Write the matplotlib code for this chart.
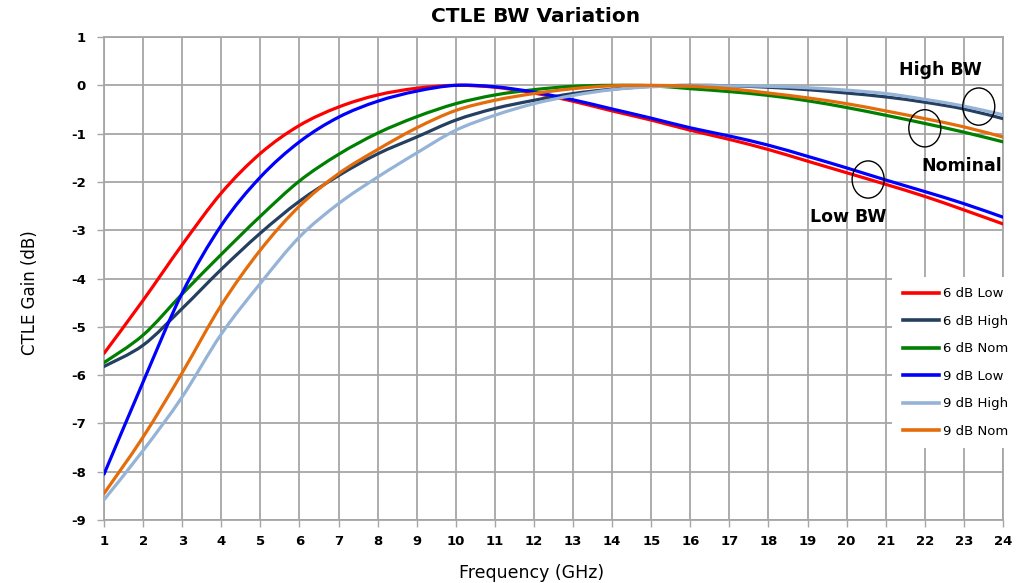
import matplotlib
matplotlib.use("Agg")
import matplotlib.pyplot as plt
import numpy as np
from matplotlib.path import Path
from matplotlib.patches import PathPatch, Ellipse
from matplotlib.lines import Line2D

plt.rcParams['axes.unicode_minus'] = False

freq = np.arange(1, 25)

low_6db = [-5.55, -4.45, -3.30, -2.23, -1.41, -0.83, -0.45, -0.20, -0.06, 0.00, -0.04, -0.16,
           -0.33, -0.53, -0.72, -0.93, -1.12, -1.33, -1.57, -1.81, -2.05, -2.30, -2.58, -2.87]
high_6db = [-5.82, -5.38, -4.62, -3.81, -3.06, -2.40, -1.87, -1.42, -1.07, -0.72, -0.48, -0.31,
            -0.17, -0.08, -0.02, 0.00, -0.01, -0.04, -0.09, -0.16, -0.24, -0.35, -0.49, -0.69]
nom_6db = [-5.74, -5.17, -4.32, -3.50, -2.71, -1.98, -1.43, -0.99, -0.65, -0.38, -0.20, -0.09,
           -0.02, 0.00, -0.01, -0.07, -0.13, -0.21, -0.32, -0.46, -0.62, -0.79, -0.97, -1.17]
low_9db = [-8.05, -6.14, -4.30, -2.90, -1.90, -1.17, -0.66, -0.33, -0.12, 0.00, -0.03, -0.14,
           -0.30, -0.49, -0.68, -0.88, -1.05, -1.24, -1.47, -1.71, -1.96, -2.20, -2.45, -2.73]
high_9db = [-8.58, -7.56, -6.45, -5.15, -4.10, -3.14, -2.45, -1.90, -1.40, -0.93, -0.62, -0.38,
            -0.21, -0.09, -0.03, -0.01, -0.01, -0.02, -0.05, -0.10, -0.17, -0.29, -0.43, -0.61]
nom_9db = [-8.45, -7.28, -5.95, -4.55, -3.41, -2.50, -1.83, -1.33, -0.88, -0.52, -0.31, -0.17,
           -0.07, -0.01, 0.00, -0.02, -0.07, -0.16, -0.26, -0.38, -0.53, -0.69, -0.86, -1.07]

labels = ["6 dB Low", "6 dB High", "6 dB Nom", "9 dB Low", "9 dB High", "9 dB Nom"]
series = [low_6db, high_6db, nom_6db, low_9db, high_9db, nom_9db]
colors = ["#ff0000", "#243f60", "#008000", "#0000ff", "#95b3d7", "#e46c0a"]


def smooth_path(x, y):
    # excel style smoothed line: catmull-rom segments as cubic beziers
    pts = np.column_stack([x, y]).astype(float)
    n = len(pts)
    verts = [pts[0]]
    codes = [Path.MOVETO]
    for i in range(n - 1):
        p0 = pts[i - 1] if i > 0 else pts[i]
        p1 = pts[i]
        p2 = pts[i + 1]
        p3 = pts[i + 2] if i + 2 < n else pts[i + 1]
        c1 = p1 + (p2 - p0) / 6.0
        c2 = p2 - (p3 - p1) / 6.0
        verts += [c1, c2, p2]
        codes += [Path.CURVE4] * 3
    return Path(verts, codes)


fig = plt.figure(figsize=(10.22, 5.83), dpi=100)
ax = fig.add_axes([0.1018, 0.108, 0.8796, 0.8285])

grid_col = "#a6a6a6"
for y, c in zip(series, colors):
    patch = PathPatch(smooth_path(freq, y), facecolor="none", edgecolor=c, lw=2.3,
                      capstyle="round", zorder=3)
    ax.add_patch(patch)

ax.set_xlim(1, 24)
ax.set_ylim(-9, 1)
ax.set_xticks(freq)
ax.set_yticks(np.arange(-9, 2, 1))
ax.grid(True, color=grid_col, lw=1.3)
ax.set_axisbelow(True)
for s in ax.spines.values():
    s.set_color(grid_col)
    s.set_linewidth(1.3)
ax.tick_params(axis="both", colors=grid_col, length=5, width=1.0, labelcolor="black")
for lab in ax.get_xticklabels() + ax.get_yticklabels():
    lab.set_fontweight("bold")
    lab.set_fontsize(9.5)
ax.tick_params(axis="x", pad=6)
ax.tick_params(axis="y", pad=8)

# circles and notes
for cx, cy in [(23.38, -0.44), (22.0, -0.89), (20.55, -1.95)]:
    ax.add_patch(Ellipse((cx, cy), 0.82, 0.77, facecolor="none", edgecolor="black",
                         lw=1.0, zorder=4))
ax.text(22.39, 0.31, "High BW", ha="center", va="center", fontsize=12.5, fontweight="bold")
ax.text(22.95, -1.68, "Nominal", ha="center", va="center", fontsize=12.5, fontweight="bold")
ax.text(20.03, -2.73, "Low BW", ha="center", va="center", fontsize=12.5, fontweight="bold")

handles = [Line2D([], [], color=c, lw=2.6) for c in colors]
leg = ax.legend(handles, labels, loc="upper left", bbox_to_anchor=(0.877, 0.504),
                frameon=True, fontsize=9.5, handlelength=2.7, handletextpad=0.3,
                labelspacing=1.1, borderaxespad=0, borderpad=0.8, fancybox=False)
leg.get_frame().set_facecolor("white")
leg.get_frame().set_edgecolor("none")
leg.get_frame().set_alpha(1.0)

fig.text(536 / 1022, 1 - 17 / 583, "CTLE BW Variation", ha="center", va="center",
         fontsize=14.5, fontweight="bold")
fig.text(532 / 1022, 1 - 573 / 583, "Frequency (GHz)", ha="center", va="center",
         fontsize=12.5)
fig.text(30 / 1022, 1 - 293 / 583, "CTLE Gain (dB)", ha="center", va="center",
         fontsize=12, rotation=90)

fig.savefig("out.png", dpi=100)
